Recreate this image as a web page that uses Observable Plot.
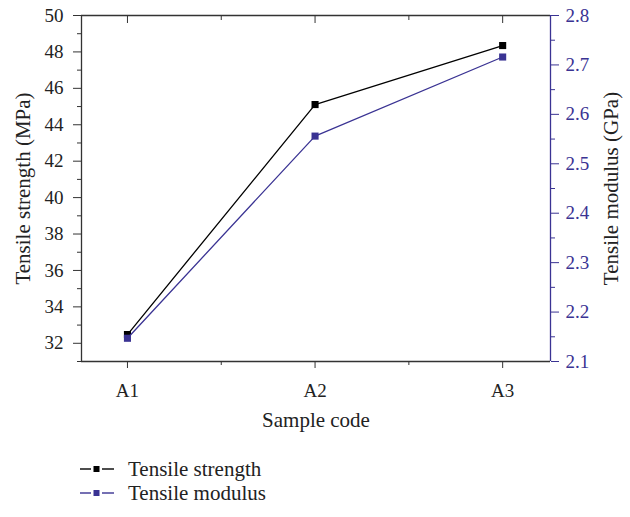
<!DOCTYPE html>
<html>
<head>
<meta charset="utf-8">
<script src="https://cdn.jsdelivr.net/npm/d3@7"></script>
<script src="https://cdn.jsdelivr.net/npm/@observablehq/plot@0.6"></script>
<style>
  body { margin: 0; background: #fff; font-family: "Liberation Serif", "DejaVu Serif", serif; }
  #legend { padding: 17px 0 0 79px; font-size: 21px; color: #222; }
  .item { display: flex; align-items: center; height: 24px; }
  .item svg { margin-right: 13px; }
  #chart g[aria-label$="tick label"] { font-size: 19px !important; }
  #chart g[aria-label$="-axis label"] { font-size: 21px !important; }
</style>
</head>
<body>
<div id="chart"></div>
<div id="legend"></div>
<script>
const categories = ["A1", "A2", "A3"];
const strength = [32.48, 45.11, 48.35];
const modulus = [2.147, 2.556, 2.716];
const leftTicks = [32, 34, 36, 38, 40, 42, 44, 46, 48, 50];
const leftMinor = [31, 33, 35, 37, 39, 41, 43, 45, 47, 49];
const rightTicks = [2.1, 2.2, 2.3, 2.4, 2.5, 2.6, 2.7, 2.8];
const rightMinor = [2.15, 2.25, 2.35, 2.45, 2.55, 2.65, 2.75];
const seriesNames = ["Tensile strength", "Tensile modulus"];
const colors = ["#000000", "#3a3393"];

const L0 = 31, L1 = 50, R0 = 2.1, R1 = 2.8;
const toLeft = m => L0 + (m - R0) / (R1 - R0) * (L1 - L0);
const fromLeft = v => R0 + (v - L0) / (L1 - L0) * (R1 - R0);

const xIdx = categories.map((c, i) => i + 1);
const xMinor = [1.5, 2.5];
const dStrength = categories.map((c, i) => ({x: i + 1, y: strength[i]}));
const dModulus = categories.map((c, i) => ({x: i + 1, y: toLeft(modulus[i])}));

const axisColor = "#333";
const purple = colors[1];

const chart = Plot.plot({
  width: 630, height: 440,
  marginTop: 15, marginLeft: 81, marginRight: 80, marginBottom: 79,
  style: {fontFamily: "Liberation Serif, DejaVu Serif, serif", fontSize: "19px", color: "#222", background: "#fff"},
  x: {domain: [0.755, 3.255]},
  y: {domain: [L0, L1]},
  marks: [
    // frame
    Plot.ruleY([L1], {stroke: axisColor, strokeWidth: 1.3}),
    Plot.ruleY([L0], {stroke: axisColor, strokeWidth: 1.3}),
    Plot.ruleX([0.755], {stroke: axisColor, strokeWidth: 1.3}),
    Plot.ruleX([3.255], {stroke: purple, strokeWidth: 1.3}),
    // left axis
    Plot.axisY({ticks: leftTicks, tickSize: 8, tickPadding: 10, stroke: axisColor, label: null}),
    Plot.axisY({ticks: [], label: "Tensile strength (MPa)", labelAnchor: "center", labelArrow: "none", labelOffset: 66}),
    Plot.axisY({ticks: leftMinor, tickSize: 4, tickFormat: () => "", stroke: axisColor, label: null}),
    // right axis
    Plot.axisY({anchor: "right", ticks: rightTicks.map(toLeft), tickFormat: d => fromLeft(d).toFixed(1), tickSize: 8, tickPadding: 7, stroke: purple, fill: purple, color: purple, label: null}),
    Plot.axisY({anchor: "right", ticks: [], label: "Tensile modulus (GPa)", labelAnchor: "center", labelArrow: "none", labelOffset: 67, fill: "#222"}),
    Plot.axisY({anchor: "right", ticks: rightMinor.map(toLeft), tickSize: 4, tickFormat: () => "", stroke: purple, label: null}),
    // bottom axis
    Plot.axisX({ticks: xIdx, tickFormat: d => categories[d - 1], tickSize: 7, tickPadding: 15, stroke: axisColor, label: null}),
    Plot.axisX({ticks: [], label: "Sample code", labelAnchor: "center", labelArrow: "none", labelOffset: 65}),
    Plot.axisX({ticks: xMinor, tickSize: 4, tickFormat: () => "", stroke: axisColor, label: null}),
    // top inward ticks
    Plot.axisX({anchor: "top", ticks: xIdx, tickSize: -7, tickFormat: () => "", stroke: axisColor, label: null}),
    Plot.axisX({anchor: "top", ticks: xMinor, tickSize: -4, tickFormat: () => "", stroke: axisColor, label: null}),
    // series
    Plot.line(dStrength, {x: "x", y: "y", stroke: colors[0], strokeWidth: 1.3}),
    Plot.dot(dStrength, {x: "x", y: "y", symbol: "square", r: 4, fill: colors[0], stroke: "none"}),
    Plot.line(dModulus, {x: "x", y: "y", stroke: colors[1], strokeWidth: 1.3}),
    Plot.dot(dModulus, {x: "x", y: "y", symbol: "square", r: 4, fill: colors[1], stroke: "none"})
  ]
});
document.getElementById("chart").appendChild(chart);

const legend = document.getElementById("legend");
seriesNames.forEach((name, i) => {
  const div = document.createElement("div");
  div.className = "item";
  div.innerHTML = `<svg width="36" height="12"><line x1="1" x2="12" y1="6" y2="6" stroke="${colors[i]}" stroke-width="1.4"/><line x1="23" x2="35" y1="6" y2="6" stroke="${colors[i]}" stroke-width="1.4"/><rect x="14.5" y="3" width="6" height="6" fill="${colors[i]}"/></svg><span>${name}</span>`;
  legend.appendChild(div);
});
</script>
</body>
</html>
